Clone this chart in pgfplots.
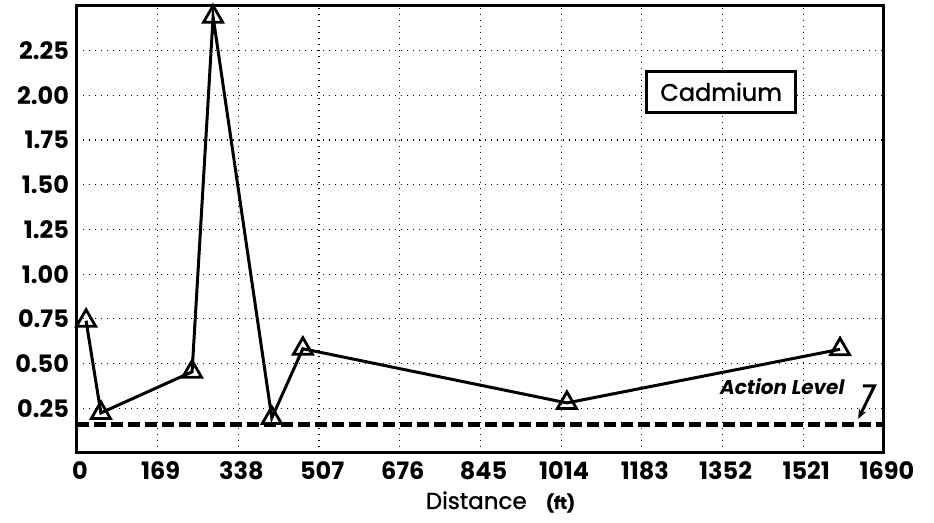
\documentclass[border=0pt]{standalone}
\usepackage{fontspec}
\setmainfont{Poppins}
\newfontfamily\medfont[FakeBold=1.3]{Poppins}
\usepackage{pgfplots}
\pgfplotsset{compat=1.18}
\usetikzlibrary{arrows.meta}
\begin{document}
\begin{tikzpicture}
\path[use as bounding box] (-38.5pt,-35pt) rectangle (428.5pt,226.5pt);
\begin{axis}[
  scale only axis, width=403.5pt, height=223.5pt,
  xmin=0, xmax=1690, ymin=0, ymax=2.5,
  xtick={0,169,338,507,676,845,1014,1183,1352,1521,1690},
  ytick={0.25,0.5,0.75,1,1.25,1.5,1.75,2,2.25},
  /pgf/number format/assume math mode=true,
  /pgf/number format/1000 sep={},
  yticklabel style={/pgf/number format/fixed, /pgf/number format/fixed zerofill, /pgf/number format/precision=2, xshift=-0.5pt},
  ticklabel style={font=\fontsize{12}{14}\selectfont\bfseries},
  xticklabel style={yshift=-1pt, xshift=1.5pt},
  major tick length=0pt,
  grid=major,
  grid style={black, line width=0.6pt, dash pattern=on 0.6pt off 2.4pt},
  axis line style={line width=1.5pt},
  xlabel={Distance\;\;\;{\fontsize{8.5}{9}\selectfont\bfseries(ft)}},
  xlabel style={font=\fontsize{11.5}{14}\selectfont\medfont, at={(axis description cs:0.5,0)}, anchor=center, yshift=-24.5pt, xshift=10pt},
  clip=false,
]
\addplot[line width=2.6pt, dash pattern=on 6pt off 2.5pt] coordinates {(0,0.16) (1690,0.16)};
\addplot[black, line width=1.5pt, mark=triangle, mark size=5.5pt,
  mark options={fill=white, line width=1.4pt}] coordinates {
  (19,0.74) (50,0.224) (241,0.454) (285,2.44) (408,0.196) (473,0.583) (1026,0.28) (1598,0.58)
};
\node[draw, line width=1.5pt, minimum width=74.5pt, minimum height=20.5pt, inner sep=0pt,
  fill=white, font=\fontsize{12}{14}\selectfont\medfont] at (axis cs:1349,2.02) {Cadmium};
\node[font=\fontsize{10}{12}\selectfont\bfseries\itshape] at (axis cs:1477,0.37) {Action Level};
\draw[line width=1.5pt, -{Stealth[length=5pt,width=4pt]}] (axis cs:1646,0.375) -- (axis cs:1670,0.375) -- (axis cs:1636,0.19);
\end{axis}
\end{tikzpicture}
\end{document}
